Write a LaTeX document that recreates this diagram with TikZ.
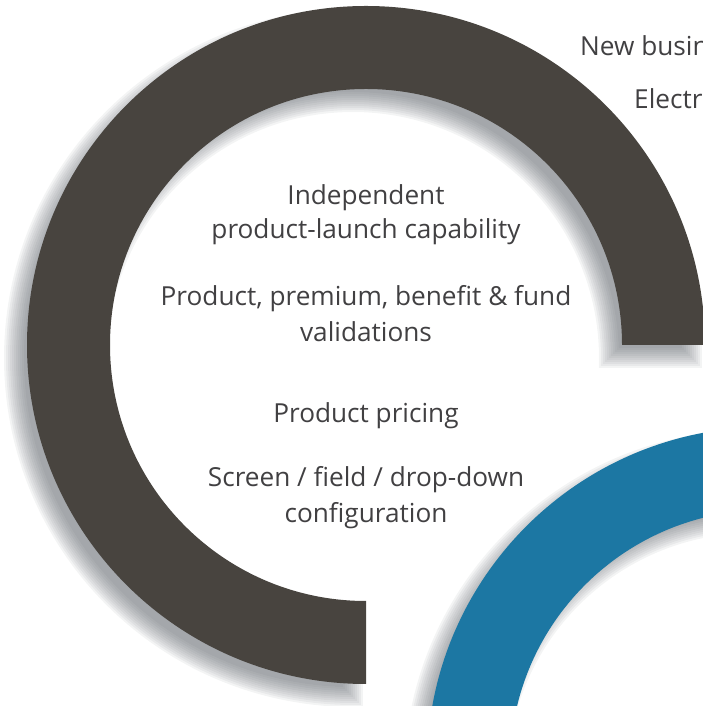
\documentclass[tikz,border=0pt]{standalone}
\usepackage{fontspec}
\setmainfont{Open Sans}
\definecolor{ringgray}{HTML}{48443F}
\definecolor{ringblue}{HTML}{1C77A3}
\definecolor{txt}{HTML}{414042}
\definecolor{shade}{HTML}{5A6067}
\newcommand\ringpath[5]{%
  \path[#1] ([shift={(#2,#3)}]#4:339) arc[start angle=#4,end angle=#5,radius=339pt]
    -- ([shift={(#2,#3)}]#5:256) arc[start angle=#5,end angle=#4,radius=256pt] -- cycle;}
% one layer of the gray ring's shadow, grown by #1 (pt)
\newcommand\grayshadowlayer[1]{%
  \pgfmathsetmacro\Ro{339+(#1)}\pgfmathsetmacro\Ri{256-(#1)}%
  \pgfmathsetmacro\ao{asin((#1)/\Ro)}\pgfmathsetmacro\ai{asin((#1)/\Ri)}%
  \pgfmathsetmacro\aos{0-(\ao)}\pgfmathsetmacro\aoe{270+(\ao)}%
  \pgfmathsetmacro\ais{270+(\ai)}\pgfmathsetmacro\aie{0-(\ai)}%
  \fill[shadowlayer] ([shift={(366,361)}]\aos:\Ro) arc[start angle=\aos,end angle=\aoe,radius=\Ro pt]
    -- ([shift={(366,361)}]\ais:\Ri) arc[start angle=\ais,end angle=\aie,radius=\Ri pt] -- cycle;}
\newcommand\blueshadowlayer[1]{%
  \pgfmathsetmacro\Ro{339+(#1)}\pgfmathsetmacro\Ri{256-(#1)}%
  \fill[shadowlayer, even odd rule] (766,-60) circle[radius=\Ro pt] (766,-60) circle[radius=\Ri pt];}
\tikzset{
  lbl/.style={text=txt, inner sep=0pt, font=\fontsize{26.2}{31}\selectfont},
  shadowlayer/.style={fill=shade, fill opacity=0.07}
}
\begin{document}
\begin{tikzpicture}[x=1pt,y=1pt]
\useasboundingbox (0,0) rectangle (703,706);
\clip (0,0) rectangle (703,706);
% gray ring with its soft shadow
\begin{scope}[xshift=-13pt,yshift=-13pt]
  \foreach \d in {-10,-8,...,10}{\grayshadowlayer{\d}}
\end{scope}
\ringpath{fill=ringgray}{366}{361}{0}{270}
% blue ring with its soft shadow
\begin{scope}[xshift=-13pt,yshift=-13pt]
  \foreach \d in {-10,-8,...,10}{\blueshadowlayer{\d}}
\end{scope}
\fill[ringblue, even odd rule] (766,-60) circle[radius=339pt] (766,-60) circle[radius=256pt];
% texts
\node[lbl, anchor=base] (t1a) at (366,501) {Independent};
\node[lbl, anchor=base] (t1b) at (366,467) {product-launch capability};
\node[lbl, anchor=base] (t2a) at (366,400) {Product, premium, benefit \& fund};
\node[lbl, anchor=base] (t2b) at (366,364) {validations};
\node[lbl, anchor=base] (t3) at (366,283) {Product pricing};
\node[lbl, anchor=base] (t4a) at (366,219) {Screen / field / drop-down};
\node[lbl, anchor=base] (t4b) at (366,183) {configuration};
\node[lbl, anchor=base west] (r1) at (580,650) {New busin};
\node[lbl, anchor=base west] (r2) at (634,597) {Electr};
\end{tikzpicture}
\end{document}
